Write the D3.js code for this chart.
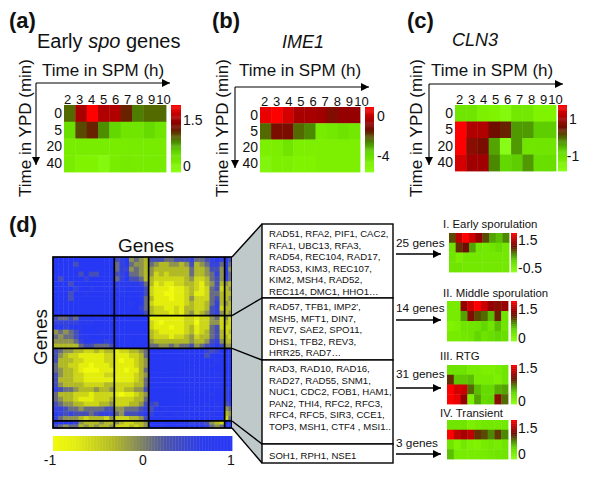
<!DOCTYPE html>
<html><head><meta charset="utf-8">
<script src="https://cdn.jsdelivr.net/npm/d3@7"></script>
<style>
html,body{margin:0;background:#fff}
svg{display:block}
text{font-family:"Liberation Sans",Arial,sans-serif;fill:#111}
</style></head><body><svg id="c" width="600" height="490"></svg>
<script>
// ---------- data ----------
const spmHours=["2","3","4","5","6","7","8","9","10"];
const ypdMinutes=["0","5","20","40"];
const earlySpo=[[.5,.8,1,.82,.82,.62,.47,.5,.5],[.25,.55,.62,.44,.3,.2,.2,.28,.2],[.14,.14,.14,.14,.14,.15,.15,.15,.15],[.14,.1,.1,.06,.14,.16,.15,.15,.15]];
const ime1=[[.95,1,.9,.8,.8,.78,.7,.75,.75],[.5,.68,.68,.5,.45,.15,.18,.22,.18],[.12,.13,.2,.12,.12,.12,.12,.12,.12],[.08,.12,.12,.1,.1,.12,.12,.12,.12]];
const cln3=[[.2,.2,.12,.1,.05,.18,.18,.1,.1],[1,.82,.82,.65,.62,.42,.42,.32,.32],[1,.72,.68,.4,.03,.42,.2,.2,.2],[.9,.78,.78,.45,.3,.32,.42,.25,.25]];
const clusterI=[[.55,.85,1,.88,.75,.55,.4,.35,.45],[.22,.6,.65,.4,.2,.18,.2,.25,.18],[.2,.12,.18,.18,.18,.18,.18,.18,.18],[.2,.2,.18,.18,.18,.18,.18,.18,.18]];
const clusterII=[[.15,.15,.75,.88,1,.88,.75,.72,.75],[.15,.15,.4,.7,.55,.5,.35,.62,.2],[.1,.12,.2,.2,.22,.3,.2,.35,.2],[.15,.15,.18,.2,.3,.22,.25,.3,.25]];
const clusterIII=[[.22,.22,.22,.15,.15,.12,.12,.15,.2],[.6,.33,.33,.35,.15,.15,.15,.12,.2],[1,.9,.88,.5,.35,.28,.28,.38,.4],[1,.95,.75,.12,.4,.28,.3,.72,.5]];
const clusterIV=[[.2,.2,.2,.12,.15,.18,.18,.18,.18],[1,.85,.8,.85,.6,.55,.45,.58,.45],[.2,.1,.18,.12,.1,.15,.18,.15,.2],[.35,.15,.15,.15,.15,.15,.18,.2,.2]];
const clusterGenes=[25,14,31,3];
const clusterBins=[12,7,15,2];
// upper triangle of the gene correlation matrix, digit 0 = -1 ... digit 9 = +1
const corrRows=[
"999999999999"+"6784543"+"666556667556787"+"86",
"99969999999"+"5785443"+"543344346345775"+"85",
"9999999999"+"5774543"+"433333335334664"+"84",
"996966999"+"6785543"+"423233335334574"+"85",
"99799999"+"5796653"+"322222234223564"+"75",
"9999999"+"8888875"+"312112233213463"+"43",
"989999"+"8899886"+"211101123212562"+"34",
"99999"+"9899986"+"211001123112553"+"33",
"9999"+"8999985"+"311101124222563"+"34",
"999"+"9998985"+"211111123223573"+"43",
"99"+"9999975"+"322112133223672"+"33",
"9"+"9999986"+"322212134234674"+"34",
"9999999"+"111111122122452"+"42",
"999999"+"210111122022442"+"32",
"99999"+"211101123122562"+"22",
"9999"+"321111123123563"+"23",
"999"+"322212234233563"+"32",
"99"+"433333334334674"+"33",
"9"+"554454556456786"+"44",
"999999999997679"+"99",
"99999999996899"+"99",
"9999999999989"+"88",
"999999999899"+"99",
"99999999999"+"99",
"9999999989"+"89",
"999999999"+"89",
"99999989"+"89",
"9999999"+"78",
"999899"+"79",
"99999"+"78",
"8989"+"67",
"989"+"45",
"99"+"34",
"9"+"25",
"98","9"];
const corrTicks=[-1,0,1];
const geneLists=[
["RAD51, RFA2, PIF1, CAC2,","RFA1, UBC13, RFA3,","RAD54, REC104, RAD17,","RAD53, KIM3, REC107,","KIM2, MSH4, RAD52,","REC114, DMC1, HHO1…"],
["RAD57, TFB1, IMP2',","MSH5, MFT1, DIN7,","REV7, SAE2, SPO11,","DHS1, TFB2, REV3,","HRR25, RAD7…"],
["RAD3, RAD10, RAD16,","RAD27, RAD55, SNM1,","NUC1, CDC2, FOB1, HAM1,","PAN2, THI4, RFC2, RFC3,","RFC4, RFC5, SIR3, CCE1,","TOP3, MSH1, CTF4 , MSI1.."],
["SOH1, RPH1, NSE1"]];
// ---------- helpers ----------
const svg=d3.select("#c");
const defs=svg.append("defs");
defs.append("filter").attr("id","soft").attr("x","-5%").attr("y","-5%").attr("width","110%").attr("height","110%")
  .append("feGaussianBlur").attr("stdDeviation",0.55);
defs.append("filter").attr("id","soft2").attr("x","-5%").attr("y","-5%").attr("width","110%").attr("height","110%")
  .append("feGaussianBlur").attr("stdDeviation",0.6);
defs.append("marker").attr("id","ah").attr("viewBox","0 0 10 10").attr("refX",10).attr("refY",5)
  .attr("markerUnits","userSpaceOnUse").attr("markerWidth",8).attr("markerHeight",8).attr("orient","auto")
  .append("path").attr("d","M0,0L10,5L0,10Z").attr("fill","#000");
const heat=d3.scaleLinear().domain([0,.12,.3,.45,.55,.65,.8,1])
  .range(["#8cff18","#7cf000","#62d800","#4c8a00","#5a4a00","#6e0f00","#a80000","#ff0000"]);
const txt=(x,y,s,size,o={})=>svg.append("text").attr("x",x).attr("y",y).attr("font-size",size)
  .attr("font-weight",o.w||null).attr("font-style",o.i?"italic":null).attr("text-anchor",o.a||"start").text(s);
function heatmap(values,x0,x1,y0,y1,cb0,cb1,opt){
  const x=d3.scaleBand().domain(spmHours).range([x0,x1]);
  const y=d3.scaleBand().domain(ypdMinutes).range([y0,y1]);
  const g=svg.append("g").attr("filter","url(#soft)");
  ypdMinutes.forEach((m,r)=>g.selectAll(null).data(values[r]).join("rect")
    .attr("x",(d,i)=>x(spmHours[i])).attr("y",y(m)).attr("width",x.bandwidth()+.4).attr("height",y.bandwidth()+.4)
    .attr("fill",d=>heat(d)));
  const t=d3.scaleLinear().domain([1,0]).range([y0,y1]);
  const steps=d3.range(0,1,1/60);
  svg.append("g").attr("filter","url(#soft)").selectAll("rect").data(steps).join("rect")
    .attr("x",cb0).attr("width",cb1-cb0).attr("y",d=>t(d+1/60)).attr("height",(y1-y0)/60+.4).attr("fill",d=>heat(d));
  if(opt.labelRange){
    const lx=d3.scalePoint().domain(spmHours).range(opt.labelRange);
    const ax=svg.append("g").attr("transform",`translate(0,${y0-1})`).call(d3.axisTop(lx).tickSize(0).tickPadding(0));
    ax.select(".domain").remove(); ax.selectAll("text").attr("font-size",13);
    const ay=svg.append("g").attr("transform",`translate(${x0-1},0)`).call(d3.axisLeft(y).tickSize(0).tickPadding(1));
    ay.select(".domain").remove(); ay.selectAll("text").attr("font-size",14);
  }
}
function timeAxes(ax,ay,xEnd,yEnd,textX,tb,ypdX){
  svg.append("path").attr("d",`M${ax},${ay}H${xEnd}`).attr("stroke","#000").attr("stroke-width",1.1).attr("marker-end","url(#ah)");
  svg.append("path").attr("d",`M${ax},${ay}V${yEnd}`).attr("stroke","#000").attr("stroke-width",1.1).attr("marker-end","url(#ah)");
  txt(textX,tb,"Time in SPM (h)",17);
  svg.append("text").attr("transform",`translate(${ypdX},128) rotate(-90)`).attr("text-anchor","middle").attr("font-size",17).text("Time in YPD (min)");
}
// ---------- panel a ----------
txt(9,28,"(a)",22,{w:"bold"});
const ta=txt(37,48,"Early ",20); ta.append("tspan").attr("font-style","italic").text("spo"); ta.append("tspan").text(" genes");
timeAxes(36,83,170,165,42,76,31);
heatmap(earlySpo,64,166,105,172,171,181,{labelRange:[67,163]});
txt(183,125,"1.5",14); txt(183,171,"0",14);
// ---------- panel b ----------
txt(212,28,"(b)",22,{w:"bold"});
txt(282,48,"IME1",18,{i:true});
timeAxes(235,87,369,168,239,76,228);
heatmap(ime1,260,360,107,172,365,374,{labelRange:[264,361]});
txt(377,121,"0",14); txt(377,161,"-4",14);
// ---------- panel c ----------
txt(407,28,"(c)",22,{w:"bold"});
txt(452,46,"CLN3",18,{i:true});
timeAxes(429,84,563,165,431,76,422);
heatmap(cln3,455,556,105,171,558,567,{labelRange:[459,555]});
txt(573,124,"1",14,{a:"middle"}); txt(573,161,"-1",14,{a:"middle"});
// ---------- panel d: correlation matrix ----------
txt(9,232,"(d)",22,{w:"bold"});
txt(146,252,"Genes",19,{a:"middle"});
svg.append("text").attr("transform","translate(47,337) rotate(-90)").attr("text-anchor","middle").attr("font-size",19).text("Genes");
const corrColor=d3.scaleLinear().domain([-1,-.75,-.35,0,.25,.65,1])
  .range(["#f0fa08","#e2ec10","#b4bc22","#7c8064","#4c54a8","#2c3cec","#2838f4"]);
const totalGenes=d3.sum(clusterGenes);
const mx=d3.scaleLinear().domain([0,totalGenes]).range([53,232]);
const my=d3.scaleLinear().domain([0,totalGenes]).range([257,428]);
const edges=[0]; let acc=0;
clusterBins.forEach((b,c)=>{d3.range(b).forEach(i=>edges.push(acc+clusterGenes[c]*(i+1)/b)); acc+=clusterGenes[c];});
const cells=[];
corrRows.forEach((s,i)=>s.split("").forEach((ch,k)=>{
  const j=i+k, v=(+ch)/9*2-1;
  cells.push({i,j,v}); if(i!==j) cells.push({i:j,j:i,v});
}));
svg.append("g").attr("filter","url(#soft2)").selectAll("rect").data(cells).join("rect")
  .attr("x",d=>mx(edges[d.j])).attr("y",d=>my(edges[d.i]))
  .attr("width",d=>mx(edges[d.j+1])-mx(edges[d.j])+.4).attr("height",d=>my(edges[d.i+1])-my(edges[d.i])+.4)
  .attr("fill",d=>corrColor(d.v));
const cuts=d3.cumsum(clusterGenes).slice(0,3);
const dg=svg.append("g").attr("stroke","#000").attr("stroke-width",1.7).attr("fill","none");
dg.selectAll(".v").data(cuts).join("line").attr("class","v").attr("x1",d=>mx(d)).attr("x2",d=>mx(d)).attr("y1",257).attr("y2",428);
dg.selectAll(".h").data(cuts).join("line").attr("class","h").attr("y1",d=>my(d)).attr("y2",d=>my(d)).attr("x1",53).attr("x2",232);
dg.append("rect").attr("x",53).attr("y",257).attr("width",179).attr("height",171);
// colour bar
const cbx=d3.scaleLinear().domain([-1,1]).range([53,232]);
svg.append("g").selectAll("rect").data(d3.range(-1,1,2/120)).join("rect")
  .attr("x",d=>cbx(d)).attr("y",436).attr("width",179/120+.4).attr("height",15).attr("fill",d=>corrColor(d));
const cbAxis=svg.append("g").attr("transform","translate(0,451)").call(d3.axisBottom(cbx).tickValues(corrTicks).tickFormat(String).tickSize(0).tickPadding(4));
cbAxis.select(".domain").remove(); cbAxis.selectAll("text").attr("font-size",14);
cbAxis.selectAll(".tick").filter(d=>d===-1).attr("transform",`translate(50,0)`);
cbAxis.selectAll(".tick").filter(d=>d===1).attr("transform",`translate(231,0)`);
// callout
const boxL=262,boxR=393,boxY=[224,298,360,444,463];
const fromY=[257,my(cuts[0]),my(cuts[1]),my(cuts[2]),428];
svg.append("path").attr("d",`M232,257L${boxL},224V463L232,428Z`).attr("fill","#bfc9c9");
svg.append("g").selectAll("line").data(fromY).join("line").attr("x1",232).attr("y1",d=>d).attr("x2",boxL).attr("y2",(d,i)=>boxY[i]).attr("stroke","#000").attr("stroke-width",1.4);
const boxBase=[237,310,372,459];
geneLists.forEach((lines,c)=>{
  svg.append("rect").attr("x",boxL).attr("y",boxY[c]).attr("width",boxR-boxL).attr("height",boxY[c+1]-boxY[c]).attr("fill","#fff").attr("stroke","#000").attr("stroke-width",1.4);
  lines.forEach((l,i)=>txt(269,boxBase[c]+i*11.6,l,9.6));
});
// right column
const countLabel=[[396,247,"25 genes",254],[396,312,"14 genes",320],[396,378,"31 genes",388],[396,447,"3 genes",454]];
countLabel.forEach(r=>{
  txt(r[0],r[1],r[2],11.8);
  svg.append("path").attr("d",`M396,${r[3]}H441`).attr("stroke","#000").attr("stroke-width",1.3).attr("marker-end","url(#ah)");
});
txt(443,228,"I. Early sporulation",11.4);
heatmap(clusterI,449,509,233,272,511,517,{});
txt(518,245,"1.5",14); txt(518,273,"-0.5",14);
txt(443,297,"II. Middle sporulation",11.4);
heatmap(clusterII,447,508,301,341,511,517,{});
txt(518,314,"1.5",14); txt(518,343,"0",14);
txt(440,360,"III. RTG",11.4);
heatmap(clusterIII,447,508,365,404,511,517,{});
txt(518,373,"1.5",14); txt(518,406,"0",14);
txt(440,417,"IV. Transient",11.4);
heatmap(clusterIV,447,508,420,459,511,517,{});
txt(518,433,"1.5",14); txt(518,459,"0",14);
</script></body></html>
